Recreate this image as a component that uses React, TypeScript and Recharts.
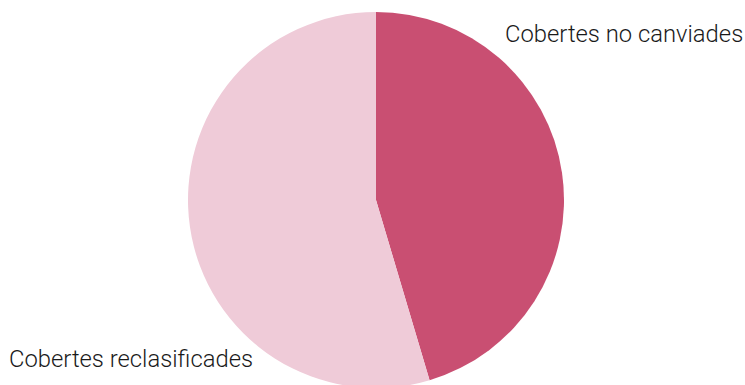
import { PieChart, Pie, Cell } from 'recharts';

const categories = ['Cobertes no canviades', 'Cobertes reclasificades'];
const shares = [45.4, 54.6];
const colors = ['#C94F72', '#EFCBD8'];

const data = categories.map((name, i) => ({ name, value: shares[i] }));

// labels sit outside the pie: top right for the first slice, bottom left for the second
const renderLabel = (props: any) => {
  const { cx, cy, outerRadius, index, name } = props;
  const x = index === 0 ? cx + 129 : cx - 367;
  const y = index === 0 ? cy - outerRadius + 30 : cy + outerRadius - 21;
  return (
    <text
      x={x}
      y={y}
      fill="#1a1a1a"
      fontSize={23.8}
      fontWeight={300}
      fontFamily="Roboto, 'Liberation Sans', sans-serif"
      textAnchor="start"
    >
      {name}
    </text>
  );
};

export default function App() {
  return (
    <div style={{ position: 'absolute', left: 0, top: 0, width: 745, height: 385, background: '#fff' }}>
      <PieChart width={745} height={385} margin={{ top: 0, right: 0, bottom: 0, left: 0 }}>
        <Pie
          data={data}
          dataKey="value"
          nameKey="name"
          cx={376}
          cy={200}
          outerRadius={188}
          startAngle={90}
          endAngle={-270}
          stroke="none"
          label={renderLabel}
          labelLine={false}
          isAnimationActive={false}
        >
          {data.map((d, i) => (
            <Cell key={d.name} fill={colors[i]} />
          ))}
        </Pie>
      </PieChart>
    </div>
  );
}
